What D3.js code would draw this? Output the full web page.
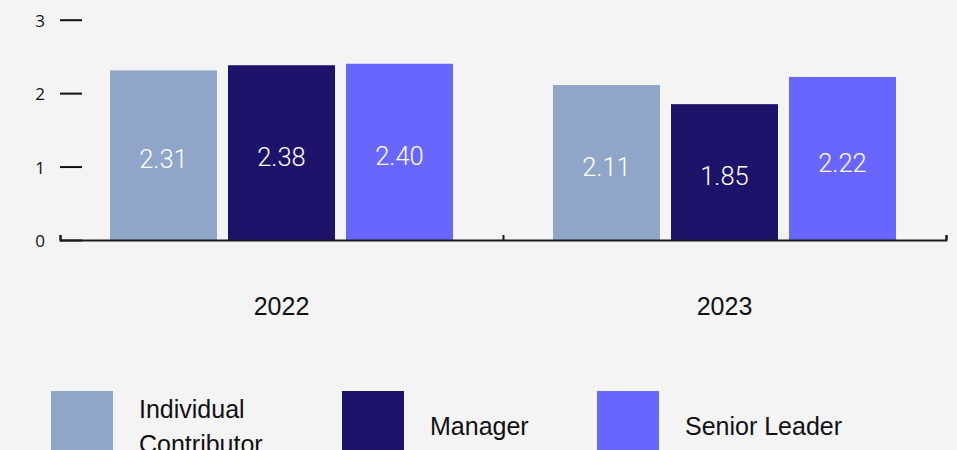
<!DOCTYPE html>
<html>
<head>
<meta charset="utf-8">
<script src="https://cdn.jsdelivr.net/npm/d3@7"></script>
<style>
  html, body { margin: 0; padding: 0; background: #f4f4f4; }
  svg { display: block; }
</style>
</head>
<body>
<svg id="chart" width="957" height="450"></svg>
<script>
// Average score by role, per survey year
const years = ["2022", "2023"];
const roles = ["Individual Contributor", "Manager", "Senior Leader"];
const legendLines = [["Individual", "Contributor"], ["Manager"], ["Senior Leader"]];
const values2022 = [2.31, 2.38, 2.40];
const values2023 = [2.11, 1.85, 2.22];
const yTicks = [0, 1, 2, 3];
const colors = ["#8fa6c9", "#1d136b", "#6966ff"];

const seriesByYear = [values2022, values2023];

const svg = d3.select("#chart");
const W = 957, H = 450;
svg.append("rect").attr("width", W).attr("height", H).attr("fill", "#f4f4f4");

const left = 60, right = 946;
const y = d3.scaleLinear().domain([0, 3]).range([240, 19.7]);

const x0 = d3.scaleBand().domain(years).range([left, right]).padding(0);
const groupPad = 50;
const x1 = d3.scaleBand().domain(roles)
  .range([groupPad, x0.bandwidth() - groupPad])
  .paddingInner(11 / 118).paddingOuter(0);

// bars
const groups = svg.append("g").selectAll("g")
  .data(years)
  .join("g")
  .attr("transform", d => `translate(${x0(d)},0)`);

groups.selectAll("rect")
  .data((yr, i) => roles.map((r, j) => ({ role: r, value: seriesByYear[i][j], color: colors[j] })))
  .join("rect")
  .attr("x", d => x1(d.role))
  .attr("y", d => y(d.value))
  .attr("width", x1.bandwidth())
  .attr("height", d => y(0) - y(d.value))
  .attr("fill", d => d.color);

// value labels inside bars
groups.selectAll("text.val")
  .data((yr, i) => roles.map((r, j) => ({ role: r, value: seriesByYear[i][j] })))
  .join("text")
  .attr("class", "val")
  .attr("x", d => x1(d.role) + x1.bandwidth() / 2)
  .attr("y", d => (y(d.value) + y(0)) / 2)
  .attr("dy", "0.52em")
  .attr("text-anchor", "middle")
  .attr("fill", "#ffffff")
  .style("font-family", "Roboto, 'Liberation Sans', sans-serif")
  .style("font-weight", 300)
  .style("font-size", "25.5px")
  .text(d => d.value.toFixed(2));

// y axis: short tick marks, no domain line
const yAxis = svg.append("g")
  .attr("transform", `translate(${left + 22},0)`)
  .call(d3.axisLeft(y).tickValues(yTicks).tickSize(22).tickPadding(15).tickFormat(d3.format("d")));
yAxis.select(".domain").remove();
yAxis.selectAll(".tick line").attr("stroke", "#111").attr("stroke-width", 2);
yAxis.selectAll(".tick text")
  .attr("fill", "#111")
  .attr("dy", "0.4em")
  .style("font-family", "'Open Sans', sans-serif")
  .style("font-size", "17px");

// x axis baseline with upward ticks at group boundaries
const xb = d3.scaleLinear().domain([0, years.length]).range([left, right]);
const xAxis = svg.append("g")
  .attr("transform", `translate(0,${y(0)})`)
  .call(d3.axisTop(xb).tickValues(d3.range(years.length + 1)).tickSize(5).tickSizeOuter(5).tickFormat(""));
xAxis.select(".domain").attr("stroke", "#1a1a1a").attr("stroke-width", 2);
xAxis.selectAll(".tick line").attr("stroke", "#1a1a1a").attr("stroke-width", 2);

// year labels
svg.append("g").selectAll("text")
  .data(years)
  .join("text")
  .attr("x", d => x0(d) + x0.bandwidth() / 2)
  .attr("y", 315)
  .attr("text-anchor", "middle")
  .attr("fill", "#111")
  .style("font-family", "'Liberation Sans', Arial, sans-serif")
  .style("font-size", "25px")
  .text(d => d);

// legend
const legendX = [51, 342, 597];
const sw = 62, swTop = 391, textGap = 26, lineH = 35, blockCenter = 426;
const legend = svg.append("g").selectAll("g")
  .data(roles)
  .join("g")
  .attr("transform", (d, i) => `translate(${legendX[i]},0)`);

legend.append("rect")
  .attr("x", 0).attr("y", swTop)
  .attr("width", sw).attr("height", sw)
  .attr("fill", (d, i) => colors[i]);

legend.append("text")
  .attr("fill", "#111")
  .style("font-family", "'Liberation Sans', Arial, sans-serif")
  .style("font-size", "25px")
  .each(function (d, i) {
    const lines = legendLines[i];
    const firstBaseline = blockCenter - (lines.length - 1) * lineH / 2 + 9;
    d3.select(this).selectAll("tspan")
      .data(lines)
      .join("tspan")
      .attr("x", sw + textGap)
      .attr("y", (t, k) => firstBaseline + k * lineH)
      .text(t => t);
  });
</script>
</body>
</html>
